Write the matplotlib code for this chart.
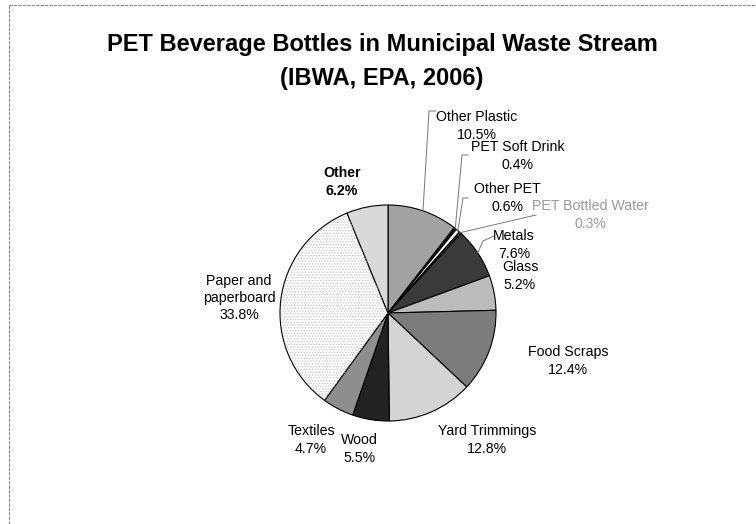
import numpy as np
import matplotlib.pyplot as plt
from matplotlib.patches import Wedge

# slice data, clockwise from 12 o'clock
labels = ["Other Plastic", "PET Soft Drink", "Other PET", "PET Bottled Water",
          "Metals", "Glass", "Food Scraps", "Yard Trimmings", "Wood",
          "Textiles", "Paper and\npaperboard", "Other"]
shares = [10.5, 0.4, 0.6, 0.3, 7.6, 5.2, 12.4, 12.8, 5.5, 4.7, 33.8, 6.2]
colors = ["#a2a2a2", "#1a1a1a", "#ffffff", "#555555", "#3a3a3a", "#bcbcbc",
          "#7c7c7c", "#d4d4d4", "#222222", "#8e8e8e", "#f9f9f9", "#d9d9d9"]

# label text centres in figure pixels (x, y from top)
label_pos = [(477, 126), (518, 156), (507, 198), (590, 215), (514, 245),
             (520, 276), (568, 361), (487, 440), (359, 449), (311, 440),
             (239, 298), (342, 182)]
# elbow of leader lines (pixels), None = no leader
elbows = [[(436, 111), (429, 111)], [(468, 155), (462, 155)],
          [(468, 198), (463, 198)], [(536, 215)],
          [(494, 236), (483, 241)], None, None, None, None, None, None, None]

W, H = 756, 524
cx, cy, R = 388, 313, 108

plt.rcParams['font.family'] = ['Liberation Sans', 'DejaVu Sans']
plt.rcParams['hatch.linewidth'] = 0.5
fig = plt.figure(figsize=(W / 100, H / 100), dpi=100)

# light frame on left and top
fig.add_artist(plt.Line2D([9 / W, 9 / W], [0, 1 - 5 / H], color="#888888", lw=0.8, ls=(0, (3, 1))))
fig.add_artist(plt.Line2D([9 / W, 1], [1 - 5 / H, 1 - 5 / H], color="#888888", lw=0.8, ls=(0, (3, 1))))

fig.text(382 / W, 1 - 45 / H, "PET Beverage Bottles in Municipal Waste Stream",
         ha="center", va="center", fontsize=17, fontweight="bold")
fig.text(382 / W, 1 - 78 / H, "(IBWA, EPA, 2006)",
         ha="center", va="center", fontsize=17, fontweight="bold")

ax = fig.add_axes([(cx - R) / W, (H - cy - R) / H, 2 * R / W, 2 * R / H])
wedges, _ = ax.pie(shares, colors=colors, startangle=90, counterclock=False,
                   radius=1, wedgeprops=dict(edgecolor="black", linewidth=0.8))
# faint dotted texture on paper slice
pw = wedges[10]
ax.add_patch(Wedge((0, 0), 0.99, pw.theta1, pw.theta2, facecolor="none",
                   edgecolor="#c8c8c8", hatch="......", lw=0))
ax.set_xlim(-1, 1)
ax.set_ylim(-1, 1)
ax.axis("off")


def to_data(p):
    return ((p[0] - cx) / R, (cy - p[1]) / R)


for i, w in enumerate(wedges):
    name = labels[i]
    txt = name + "\n" + f"{shares[i]:.1f}%"
    col = "#999999" if name == "PET Bottled Water" else "black"
    weight = "bold" if name == "Other" else "normal"
    x, y = to_data(label_pos[i])
    ax.text(x, y, txt, ha="center", va="center", fontsize=10.2, color=col,
            fontweight=weight, linespacing=1.3, clip_on=False)
    if elbows[i] is not None:
        ang = np.deg2rad((w.theta1 + w.theta2) / 2)
        pts = [to_data(p) for p in elbows[i]] + [(np.cos(ang), np.sin(ang))]
        xs, ys = zip(*pts)
        ax.plot(xs, ys, color="#777777", lw=0.7, clip_on=False)

fig.savefig("out.png", dpi=100)
